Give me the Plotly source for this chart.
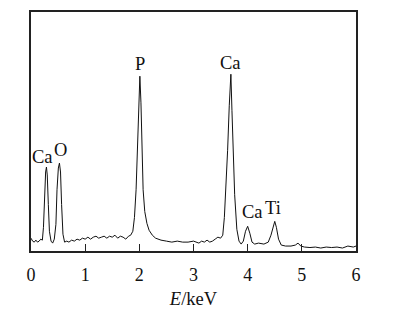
import plotly.graph_objects as go

# EDS spectrum: energy (keV) and intensity (a.u.)
energy = [0.00, 0.03, 0.06, 0.09, 0.12, 0.15, 0.18, 0.21, 0.23, 0.25, 0.27, 0.285, 0.30, 0.32, 0.34,
          0.37, 0.40, 0.43, 0.46, 0.48, 0.505, 0.525, 0.545, 0.565, 0.59, 0.62, 0.66, 0.70, 0.75,
          0.80, 0.85, 0.90, 0.95, 1.00, 1.05, 1.10, 1.15, 1.20, 1.25, 1.30, 1.35, 1.40, 1.45, 1.50,
          1.55, 1.60, 1.65, 1.70, 1.75, 1.80, 1.84, 1.88, 1.91, 1.94, 1.97, 2.00, 2.01, 2.03, 2.05,
          2.07, 2.10, 2.14, 2.18, 2.24, 2.30, 2.40, 2.50, 2.60, 2.70, 2.80, 2.90, 3.00, 3.10, 3.15,
          3.20, 3.25, 3.30, 3.35, 3.40, 3.45, 3.50, 3.54, 3.57, 3.60, 3.63, 3.66, 3.69, 3.71, 3.73,
          3.76, 3.80, 3.84, 3.88, 3.92, 3.96, 4.00, 4.04, 4.08, 4.13, 4.20, 4.30, 4.38, 4.43, 4.47,
          4.50, 4.53, 4.57, 4.62, 4.70, 4.80, 4.88, 4.93, 4.98, 5.05, 5.15, 5.25, 5.35, 5.45, 5.55,
          5.65, 5.75, 5.85, 5.95, 6.00]
intensity = [13, 10, 9, 11, 9, 10, 12, 11, 24, 57, 80, 85, 77, 47, 20,
             10, 8, 12, 27, 62, 84, 89, 80, 47, 17, 9, 10, 9, 11,
             10, 12, 11, 13, 12, 14, 12, 14, 15, 13, 14, 15, 13, 15, 14,
             16, 13, 15, 14, 12, 15, 16, 20, 34, 62, 112, 170, 177, 150, 100,
             62, 40, 28, 21, 16, 13, 11, 10, 9, 10, 9, 9, 10, 8, 10,
             9, 11, 9, 10, 12, 14, 13, 16, 34, 62, 102, 147, 179, 142, 102,
             57, 22, 10, 7, 10, 20, 25, 18, 9, 7, 8, 7, 9, 16, 26,
             30, 24, 12, 6, 5, 5, 6, 8, 5, 4, 3.5, 4, 3, 4, 3.5,
             4, 3, 5, 4, 5]

# Peak labels
label_text = ["Ca", "O", "P", "Ca", "Ca", "Ti"]
label_x = [0.22, 0.55, 2.01, 3.69, 4.09, 4.47]
label_y = [95, 102, 189, 190, 39, 44]

tick_vals = [0, 1, 2, 3, 4, 5, 6]
tick_text = ["0", "1", "2", "3", "4", "5", "6"]

FONT = "Liberation Serif, Times New Roman, serif"

fig = go.Figure()
fig.add_trace(go.Scatter(x=energy, y=intensity, mode="lines",
                         line=dict(color="#111111", width=1), showlegend=False,
                         hoverinfo="skip"))

for t, x, y in zip(label_text, label_x, label_y):
    fig.add_annotation(x=x, y=y, xref="x", yref="y", text=t, showarrow=False,
                       font=dict(family=FONT, size=18.5, color="#111111"))

fig.update_layout(
    width=407, height=316,
    margin=dict(l=31, r=51, t=10, b=64),
    paper_bgcolor="white", plot_bgcolor="white",
    font=dict(family=FONT, size=18, color="#111111"),
    xaxis=dict(range=[0, 6], tickvals=tick_vals, ticktext=tick_text,
               ticks="inside", ticklen=7, tickwidth=1, tickcolor="#222222",
               showline=True, linecolor="#222222", linewidth=1.5, mirror=True,
               showgrid=False, zeroline=False,
               ticklabelstandoff=7,
               tickfont=dict(family=FONT, size=18),
               title=dict(text="<i>E</i>/keV", standoff=8,
                          font=dict(family=FONT, size=18.5))),
    yaxis=dict(range=[0, 242], showticklabels=False, ticks="",
               showline=True, linecolor="#222222", linewidth=1.5, mirror=True,
               showgrid=False, zeroline=False),
)

fig.write_html("out.html")
